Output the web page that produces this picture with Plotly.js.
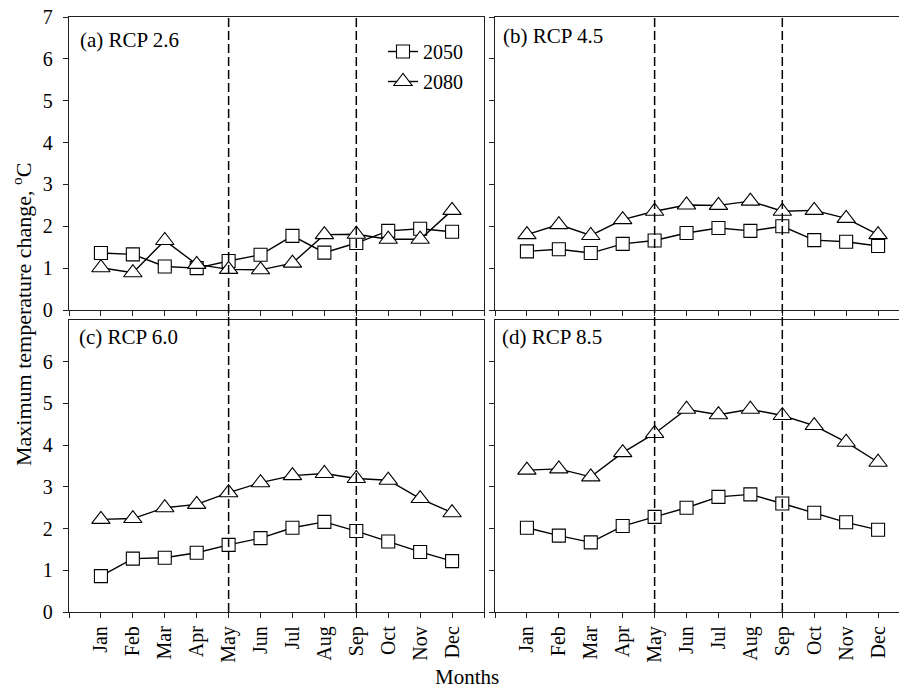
<!DOCTYPE html>
<html>
<head>
<meta charset="utf-8">
<script src="https://cdn.plot.ly/plotly-3.0.1.min.js"></script>
<style>html,body{margin:0;padding:0;background:#fff;}#chart{width:899px;height:688px;}</style>
</head>
<body>
<div id="chart"></div>
<script>
const months = ['Jan','Feb','Mar','Apr','May','Jun','Jul','Aug','Sep','Oct','Nov','Dec'];
const monthIndex = [1,2,3,4,5,6,7,8,9,10,11,12];
const panelLabels = ['(a) RCP 2.6','(b) RCP 4.5','(c) RCP 6.0','(d) RCP 8.5'];
const seriesNames = ['2050','2080'];

const rcp26_2050 = [1.36,1.33,1.04,1.00,1.17,1.32,1.77,1.37,1.60,1.89,1.94,1.87];
const rcp26_2080 = [1.01,0.89,1.66,1.09,0.97,0.96,1.12,1.80,1.81,1.69,1.69,2.38];
const rcp45_2050 = [1.40,1.45,1.36,1.58,1.66,1.84,1.96,1.89,2.00,1.67,1.63,1.53];
const rcp45_2080 = [1.80,2.04,1.78,2.16,2.36,2.51,2.50,2.60,2.36,2.38,2.19,1.80];
const rcp60_2050 = [0.86,1.28,1.30,1.42,1.61,1.77,2.02,2.16,1.94,1.69,1.44,1.22];
const rcp60_2080 = [2.22,2.24,2.50,2.58,2.86,3.10,3.27,3.32,3.20,3.16,2.72,2.38];
const rcp85_2050 = [2.02,1.83,1.67,2.06,2.28,2.50,2.76,2.82,2.60,2.38,2.15,1.97];
const rcp85_2080 = [3.40,3.43,3.24,3.82,4.28,4.86,4.73,4.86,4.71,4.47,4.07,3.59];
const seasonBounds = [5, 9];

const W = 899, H = 688;
const px = v => v / W;
const py = v => 1 - v / H;

const FONT = 'Liberation Serif, Times New Roman, serif';
const panels = [
  {a: rcp26_2050, b: rcp26_2080, xa: 'x',  ya: 'y',  legend: true},
  {a: rcp45_2050, b: rcp45_2080, xa: 'x2', ya: 'y2', legend: false},
  {a: rcp60_2050, b: rcp60_2080, xa: 'x3', ya: 'y3', legend: false},
  {a: rcp85_2050, b: rcp85_2080, xa: 'x4', ya: 'y4', legend: false}
];

const traces = [];
panels.forEach((p, i) => {
  traces.push({
    x: monthIndex, y: p.a, xaxis: p.xa, yaxis: p.ya, type: 'scatter', mode: 'lines+markers',
    name: seriesNames[0], showlegend: p.legend, legendgroup: 'g2050',
    line: {color: '#000', width: 1.4},
    marker: {symbol: 'square', size: 13, color: '#fff', line: {color: '#000', width: 1.1}}
  });
  traces.push({
    x: monthIndex, y: p.b, xaxis: p.xa, yaxis: p.ya, type: 'scatter', mode: 'lines+markers',
    name: seriesNames[1], showlegend: p.legend, legendgroup: 'g2080',
    line: {color: '#000', width: 1.4},
    marker: {symbol: 'triangle-up', size: 16, color: '#fff', line: {color: '#000', width: 1.1}}
  });
});

function xaxis(domain, range, labels, anchor) {
  return {
    domain: domain, range: range, anchor: anchor,
    showline: true, mirror: true, linecolor: '#222', linewidth: 1.2,
    ticks: 'outside', ticklen: 5, tickwidth: 1, tickcolor: '#222',
    tickmode: 'array', tickvals: monthIndex, ticktext: months,
    minor: {tickmode: 'array', tickvals: [0, 13], ticks: 'outside', ticklen: 5, tickwidth: 1, tickcolor: '#222', showgrid: false},
    showticklabels: labels, tickangle: -90,
    tickfont: {family: FONT, size: 20, color: '#000'},
    showgrid: false, zeroline: false, fixedrange: true
  };
}
function yaxis(domain, labels, anchor, mirror, tv) {
  return {
    domain: domain, range: [0, 7], anchor: anchor,
    showline: true, mirror: mirror, linecolor: '#222', linewidth: 1.2,
    ticks: 'outside', ticklen: 5, tickwidth: 1, tickcolor: '#222',
    tickmode: 'array', tickvals: tv,
    showticklabels: labels, ticklabelstandoff: 6,
    tickfont: {family: FONT, size: 20, color: '#000'},
    showgrid: false, zeroline: false, fixedrange: true
  };
}

const leftX = [px(69), px(484)];
const rightX = [px(495), 1];
const topY = [py(310), py(17)];
const botY = [py(612), py(320)];
const rightRange = [0, (W - 495) / (415 / 13)];

const shapes = [];
seasonBounds.forEach(m => {
  ['x', 'x2'].forEach(xr => {
    shapes.push({type: 'line', xref: xr, yref: 'paper', x0: m, x1: m, y0: botY[0], y1: topY[1],
      line: {color: '#000', width: 1.5, dash: '9px,4px'}});
  });
});

const labelPos = [[78, 40], [501, 36], [77, 337], [500, 337]];
const annotations = panelLabels.map((t, i) => ({
  text: t, xref: 'paper', yref: 'paper', x: px(labelPos[i][0]), y: py(labelPos[i][1]),
  xanchor: 'left', yanchor: 'middle', showarrow: false,
  font: {family: FONT, size: 21, color: '#000'}
}));
annotations.push({
  text: 'Maximum temperature change, <sup>o</sup>C', xref: 'paper', yref: 'paper',
  x: px(22), y: py(315), xanchor: 'center', yanchor: 'middle', textangle: -90, showarrow: false,
  font: {family: FONT, size: 22, color: '#000'}
});
annotations.push({
  text: 'Months', xref: 'paper', yref: 'paper', x: px(467), y: py(677),
  xanchor: 'center', yanchor: 'middle', showarrow: false,
  font: {family: FONT, size: 21, color: '#000'}
});

const layout = {
  width: W, height: H,
  margin: {l: 0, r: 0, t: 0, b: 0, pad: 0},
  paper_bgcolor: '#fff', plot_bgcolor: '#fff',
  font: {family: FONT, color: '#000'},
  xaxis:  xaxis(leftX, [0, 13], false, 'y'),
  yaxis:  yaxis(topY, true, 'x', true, [0,1,2,3,4,5,6,7]),
  xaxis2: xaxis(rightX, rightRange, false, 'y2'),
  yaxis2: yaxis(topY, false, 'x2', false, [0,1,2,3,4,5,6,7]),
  xaxis3: xaxis(leftX, [0, 13], true, 'y3'),
  yaxis3: yaxis(botY, true, 'x3', true, [0,1,2,3,4,5,6]),
  xaxis4: xaxis(rightX, rightRange, true, 'y4'),
  yaxis4: yaxis(botY, false, 'x4', false, [0,1,2,3,4,5,6]),
  showlegend: true,
  legend: {
    x: px(383), y: py(32), xanchor: 'left', yanchor: 'top',
    bgcolor: 'rgba(0,0,0,0)', borderwidth: 0,
    font: {family: FONT, size: 20, color: '#000'},
    itemwidth: 30, tracegroupgap: 1
  },
  shapes: shapes,
  annotations: annotations
};

Plotly.newPlot('chart', traces, layout, {staticPlot: true, displayModeBar: false});
</script>
</body>
</html>
